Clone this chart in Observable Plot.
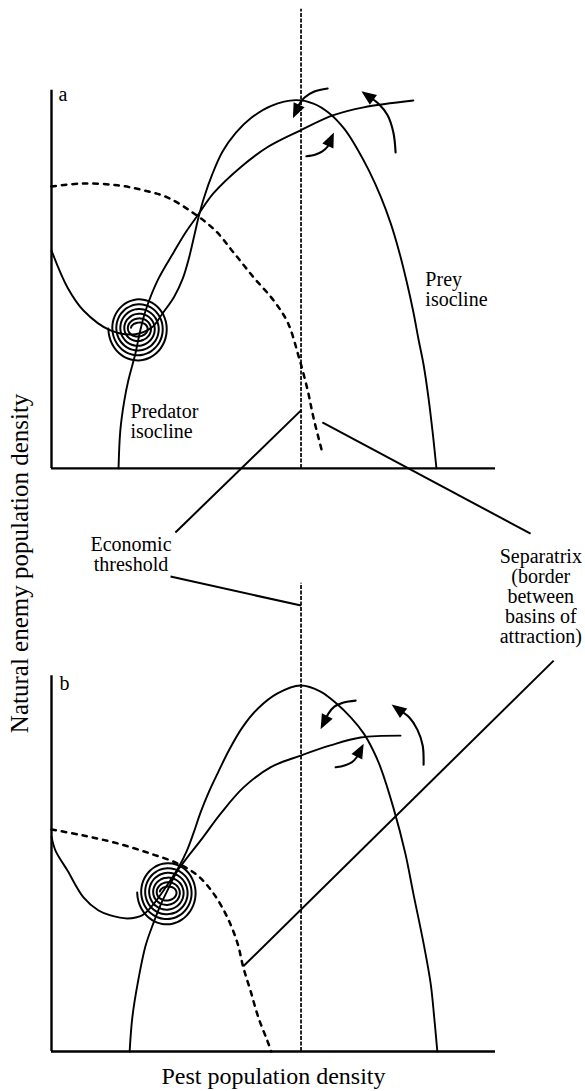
<!DOCTYPE html>
<html>
<head>
<meta charset="utf-8">
<script src="https://cdn.jsdelivr.net/npm/d3@7"></script>
<script src="https://cdn.jsdelivr.net/npm/@observablehq/plot@0.6"></script>
<style>
  body { margin: 0; background: #fff; }
</style>
</head>
<body>
<div id="chart"></div>
<script>
// Phase-plane sketch: pest density (x, 0–100 on each panel) against
// natural-enemy density (y, 0–100 on each panel). Points are [pest, enemy].

// Panel a
const preyA = [[0,57.8],[3.6,48],[7.2,41.9],[13.3,36.6],[18.9,35.6],[22.7,37.5],[25,41.1],[27.6,45.5],[29.6,50.5],[31,56],[32.2,62],[33.2,67],[34.4,72],[36.2,78],[38.5,84],[41.5,89],[45,93],[49.5,96.2],[55,97.7],[59,96.8],[62.5,94.3],[66,90],[69,84.5],[71.5,79],[74.2,72],[76.4,65],[78.3,57.5],[80,49.5],[81.5,41.5],[82.7,34],[83.8,27.5],[84.9,18.8],[85.9,9],[86.7,0]];
const predatorA = [[15.1,0],[15.5,10.1],[16.4,18],[17.3,23.3],[18.9,30.5],[20,36.6],[21.2,41.9],[23.9,49.9],[27.6,57.5],[30.2,62.6],[32.9,67.1],[36.5,73],[42.6,79.9],[48.6,85.2],[56.1,89.7],[63.5,93.7],[70.3,95.8],[81.5,97.6]];
const separatrixA = [[0,74.8],[7.2,75.6],[14.9,75.1],[20.7,73.8],[26.1,71.9],[32,67.7],[36.9,63.1],[41,57.3],[45.5,50.7],[50,44.6],[53.2,38.7],[55.6,30],[57.7,20.7],[59,13.5],[61,4.2]];
const arrowsA = [
  [[62.2,100.8],[59.2,100],[57,98.4],[55.9,96.8],[55.2,95]],
  [[77.5,83.8],[77,89.1],[75.7,93.7],[73.6,96.8],[71.4,98.7]],
  [[57.4,82.8],[59.5,83.3],[61,84.1],[62.2,85.4],[62.8,87]]
];
const spiralCenterA = [19.6, 37.1];

// Panel b
const preyB = [[0,57],[0.9,53.3],[3.6,48],[7.2,40.9],[10.6,37.4],[13.3,36.1],[17.1,35.3],[20.4,36.1],[22.7,38.7],[25.7,43.5],[28.6,48.8],[30.4,53],[32,58],[33.6,63.5],[35.5,69],[37.5,74],[40,80],[43,86],[46.5,91],[50.9,95],[56.1,97.1],[60.6,95.5],[64,92.5],[67.5,88.5],[70.3,84.4],[72.4,80],[74.1,75.4],[77,64.7],[79.7,52.5],[81.5,41.9],[83.8,28.7],[85.4,18],[86.2,9],[86.9,0]];
const predatorB = [[17.6,0],[18.2,9],[19.4,18],[21.2,28.1],[23,34.2],[24.5,38.7],[26.1,42.7],[28.4,48],[30.6,51.5],[33.6,56],[38.1,63.1],[43.2,70],[49.3,75.4],[56.1,78.5],[62.8,81.2],[69.6,83.3],[78.6,83.8]];
const separatrixB = [[0,58.9],[7.2,57.3],[14.9,55.2],[22.3,52.5],[28.4,49.9],[32.9,46.7],[36.5,41.9],[39.6,35.6],[41.9,28.7],[43.2,22.3],[44.8,16.2],[46.6,9],[48.6,2.9],[49.5,0]];
const arrowsB = [
  [[68.5,93.1],[65.8,92.6],[63.7,91.5],[62.4,89.7],[61.5,87.6]],
  [[83.8,76.1],[83.6,81.2],[82.4,85.4],[80.6,88.6],[78.2,90.7]],
  [[64,75.4],[66,75.9],[67.6,76.7],[68.7,78],[69.4,79.6]]
];
const spiralCenterB = [26.1, 42.2];

// Loop radii of the converging trajectory, outermost to innermost
const loopRx = [6.8, 5.9, 5.0, 4.1, 3.2, 2.4, 1.7];
const loopRy = [8.8, 7.4, 6.1, 4.9, 3.6, 2.4, 1.3];

// Economic threshold (pest density) and how far its dashed line runs in each panel
const threshold = 56.2;
const thresholdTop = {a: 121.8, b: 124.2};

// Axis extents per panel
const axisTop = {a: 100.3, b: 99.7};
const axisRight = {a: 100, b: 100};

// Text
const panelLetters = ["a", "b"];
const isoclineLabels = ["Prey\nisocline", "Predator\nisocline"];
const calloutLabels = ["Economic\nthreshold", "Separatrix\n(border\nbetween\nbasins of\nattraction)"];
const xTitle = "Pest population density";
const yTitle = "Natural enemy population density";

// Both panels share one vertical scale; panel a sits above panel b
const base = {a: 154.7, b: 0};

// Layout of the shared frame
const W = 585, H = 1091;
const mL = 51, mR = 90, mT = 71, mB = 40;
const xDomain = [0, 100], yDomain = [0, 260];
const kx = (W - mL - mR) / (xDomain[1] - xDomain[0]);
const ky = (H - mT - mB) / (yDomain[1] - yDomain[0]);

const place = (pts, panel, extra = {}) => pts.map(([x, y]) => ({x, y: y + base[panel], ...extra}));

function spiral(center, panel) {
  const [cx, cy] = center;
  const pts = [];
  for (let i = 0; i < loopRx.length - 1; i++) {
    for (let s = 0; s < 36; s++) {
      const t = s / 36, a = 2 * Math.PI * (i + t) + Math.PI;
      const rx = loopRx[i] + (loopRx[i + 1] - loopRx[i]) * t;
      const ry = loopRy[i] + (loopRy[i + 1] - loopRy[i]) * t;
      pts.push([cx + rx * Math.cos(a), cy + ry * Math.sin(a)]);
    }
  }
  return place(pts, panel);
}

function head(pts, panel) {
  const [x0, y0] = pts[pts.length - 2], [x1, y1] = pts[pts.length - 1];
  const dx = (x1 - x0) * kx, dy = -(y1 - y0) * ky;
  return {x: x1, y: y1 + base[panel], angle: Math.atan2(dx, -dy) * 180 / Math.PI};
}

const arcs = [
  ...arrowsA.flatMap((pts, i) => place(pts, "a", {k: "a" + i})),
  ...arrowsB.flatMap((pts, i) => place(pts, "b", {k: "b" + i}))
];
const heads = [...arrowsA.map(p => head(p, "a")), ...arrowsB.map(p => head(p, "b"))];

// Elongated filled arrowhead pointing up before rotation
const arrowHead = {
  draw(ctx, size) {
    const s = Math.sqrt(size / Math.PI);
    ctx.moveTo(0, -1.6 * s);
    ctx.lineTo(1.1 * s, 1.1 * s);
    ctx.lineTo(-1.1 * s, 1.1 * s);
    ctx.closePath();
  }
};

const panels = ["a", "b"];

// Leader lines in the shared frame, from label to feature
const leaders = [
  {x1: 27.9, y1: 137.7, x2: threshold, y2: 170.1},
  {x1: 26.8, y1: 126.0, x2: threshold, y2: 118.3},
  {x1: 107.9, y1: 137.4, x2: 61.0, y2: 166.9},
  {x1: 113.1, y1: 103.7, x2: 43.2, y2: 22.6}
];

const letterAt = [[1.6, base.a + 97.6], [1.8, base.b + 95.8]];
const isoclineAt = [[84.2, base.a + 43.2], [17.8, base.a + 8.0]];
const calloutAt = [[17.9, 127.6], [110.2, 108.3]];

const serif = "'Liberation Serif', 'Times New Roman', serif";
const curve = "catmull-rom";

const chart = Plot.plot({
  width: W, height: H,
  marginLeft: mL, marginRight: mR, marginTop: mT, marginBottom: mB,
  x: {domain: xDomain, axis: null},
  y: {domain: yDomain, axis: null},
  style: {background: "#fff", color: "#000", fontFamily: serif},
  marks: [
    // axes
    Plot.ruleX(panels, {x: 0, y1: p => base[p], y2: p => base[p] + axisTop[p], strokeWidth: 2.4}),
    Plot.ruleY(panels, {y: p => base[p], x1: 0, x2: p => axisRight[p], strokeWidth: 2.4}),
    // economic threshold
    Plot.ruleX(panels, {x: threshold, y1: p => base[p], y2: p => base[p] + thresholdTop[p], strokeWidth: 1.7, strokeDasharray: "4,1.5"}),
    // separatrices
    Plot.line(place(separatrixA, "a"), {x: "x", y: "y", curve, strokeWidth: 2.5, strokeDasharray: "4.5,6"}),
    Plot.line(place(separatrixB, "b"), {x: "x", y: "y", curve, strokeWidth: 2.5, strokeDasharray: "4.5,6"}),
    // isoclines
    Plot.line(place(preyA, "a"), {x: "x", y: "y", curve, strokeWidth: 1.9}),
    Plot.line(place(predatorA, "a"), {x: "x", y: "y", curve, strokeWidth: 1.9}),
    Plot.line(place(preyB, "b"), {x: "x", y: "y", curve, strokeWidth: 1.9}),
    Plot.line(place(predatorB, "b"), {x: "x", y: "y", curve, strokeWidth: 1.9}),
    // trajectories spiralling into the equilibrium
    Plot.line(spiral(spiralCenterA, "a"), {x: "x", y: "y", curve, strokeWidth: 2}),
    Plot.line(spiral(spiralCenterB, "b"), {x: "x", y: "y", curve, strokeWidth: 2}),
    // direction arrows
    Plot.line(arcs, {x: "x", y: "y", z: "k", curve, strokeWidth: 2.1}),
    Plot.dot(heads, {x: "x", y: "y", rotate: "angle", symbol: arrowHead, r: 5.5, fill: "#000", stroke: "none"}),
    // leader lines
    Plot.link(leaders, {x1: "x1", y1: "y1", x2: "x2", y2: "y2", strokeWidth: 2}),
    // text
    Plot.text(panelLetters, {x: (d, i) => letterAt[i][0], y: (d, i) => letterAt[i][1], text: d => d, textAnchor: "start", lineAnchor: "bottom", fontSize: 20, fontFamily: serif}),
    Plot.text(isoclineLabels, {x: (d, i) => isoclineAt[i][0], y: (d, i) => isoclineAt[i][1], text: d => d, textAnchor: "start", lineAnchor: "bottom", fontSize: 20, lineHeight: 1, fontFamily: serif}),
    Plot.text(calloutLabels, {x: (d, i) => calloutAt[i][0], y: (d, i) => calloutAt[i][1], text: d => d, textAnchor: "middle", lineAnchor: "bottom", fontSize: 20, lineHeight: 1, fontFamily: serif}),
    Plot.text([xTitle], {x: 50, y: -8.5, text: d => d, textAnchor: "middle", lineAnchor: "bottom", fontSize: 24, fontFamily: serif}),
    Plot.text([yTitle], {x: -5.2, y: 129.5, text: d => d, rotate: -90, textAnchor: "middle", lineAnchor: "bottom", fontSize: 25, fontFamily: serif})
  ]
});

document.getElementById("chart").appendChild(chart);
</script>
</body>
</html>
